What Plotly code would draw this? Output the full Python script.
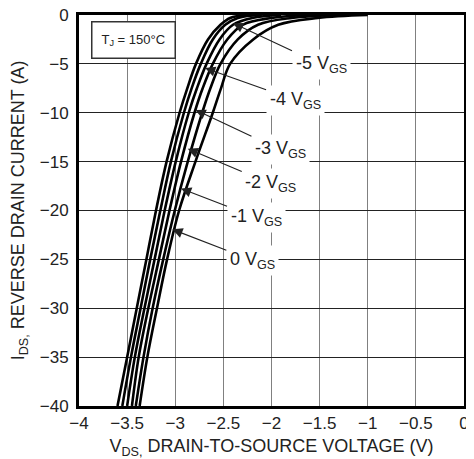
import plotly.graph_objects as go

# Reverse drain current levels (A) at which VDS was read for each curve
current_a = [0, -0.3, -1, -2.5, -5, -7.5, -10, -15, -20, -25, -30, -35, -40]

# VDS (V) read for each gate voltage curve
vds_m5 = [-2.25, -2.43, -2.53, -2.66, -2.785, -2.875, -2.955, -3.09, -3.20, -3.30, -3.40, -3.50, -3.60]
vds_m4 = [-2.10, -2.35, -2.48, -2.61, -2.735, -2.83, -2.91, -3.045, -3.155, -3.26, -3.36, -3.46, -3.55]
vds_m3 = [-1.90, -2.20, -2.40, -2.54, -2.675, -2.775, -2.86, -2.995, -3.11, -3.215, -3.32, -3.42, -3.50]
vds_m2 = [-1.60, -2.00, -2.30, -2.46, -2.61, -2.715, -2.80, -2.94, -3.06, -3.17, -3.28, -3.38, -3.45]
vds_m1 = [-1.30, -1.79, -2.14, -2.35, -2.53, -2.635, -2.72, -2.87, -3.005, -3.125, -3.235, -3.33, -3.41]
vds_0 = [-1.00, -1.52, -1.93, -2.19, -2.43, -2.525, -2.61, -2.79, -2.96, -3.085, -3.19, -3.29, -3.37]

curve_labels = ["-5 V<sub>GS</sub>", "-4 V<sub>GS</sub>", "-3 V<sub>GS</sub>",
                "-2 V<sub>GS</sub>", "-1 V<sub>GS</sub>", "0 V<sub>GS</sub>"]
curves = [vds_m5, vds_m4, vds_m3, vds_m2, vds_m1, vds_0]

# arrow tip locations (data) and label offsets (px)
tip_x = [-2.40, -2.69, -2.79, -2.87, -2.94, -3.03]
tip_y = [-0.84, -5.43, -9.71, -13.68, -17.75, -21.93]
off_x = [88, 90, 85, 83, 75, 80]
off_y = [41, 32, 40, 35, 29, 31]

x_ticks = [-4, -3.5, -3, -2.5, -2, -1.5, -1, -0.5, 0]
y_ticks = [0, -5, -10, -15, -20, -25, -30, -35, -40]

FONT = "Liberation Sans, Arial, sans-serif"

fig = go.Figure()
for name, xs in zip(curve_labels, curves):
    fig.add_trace(go.Scatter(
        x=xs, y=current_a, mode="lines", name=name,
        line=dict(color="black", width=2.6, shape="spline", smoothing=1.0),
        showlegend=False, hoverinfo="skip"))

for lab, tx, ty, ox, oy in zip(curve_labels, tip_x, tip_y, off_x, off_y):
    fig.add_annotation(
        x=tx, y=ty, xref="x", yref="y", ax=ox, ay=oy,
        text=lab, showarrow=True, arrowhead=2, arrowsize=1.7, arrowwidth=1.2,
        arrowcolor="#222", font=dict(family=FONT, size=18, color="#222"),
        bgcolor="white", borderpad=3, standoff=0)

fig.add_annotation(
    x=-3.43, y=-2.55, xref="x", yref="y", showarrow=False,
    text="T<sub>J</sub> = 150°C", font=dict(family=FONT, size=13, color="#222"),
    bgcolor="white", bordercolor="#333", borderwidth=1.5, borderpad=9)

fig.update_xaxes(
    range=[-4, 0], tickvals=x_ticks, showgrid=True, gridcolor="#808080", gridwidth=1.2,
    zeroline=False, showline=True, linecolor="black", linewidth=3, mirror=True,
    ticks="", tickfont=dict(family=FONT, size=17, color="#222"), automargin=False,
    ticklabeloverflow="allow",
    title=dict(text="V<sub>DS,</sub> DRAIN-TO-SOURCE VOLTAGE (V)",
               font=dict(family=FONT, size=18, color="#222"), standoff=10))
fig.update_yaxes(
    range=[-40, 0], tickvals=y_ticks, showgrid=True, gridcolor="#222", gridwidth=1,
    zeroline=False, showline=True, linecolor="black", linewidth=3, mirror=True,
    ticks="", tickfont=dict(family=FONT, size=17, color="#222"), automargin=False,
    ticklabelstandoff=4, ticklabeloverflow="allow",
    title=dict(text="I<sub>DS,</sub> REVERSE DRAIN CURRENT (A)",
               font=dict(family=FONT, size=18, color="#222"), standoff=14))

# page body has an 8px margin, so the figure is sized to fill the rest of the window
fig.update_layout(
    width=466, height=451, margin=dict(l=71, r=10, t=7, b=53),
    paper_bgcolor="white", plot_bgcolor="white")

fig.write_html("out.html")
